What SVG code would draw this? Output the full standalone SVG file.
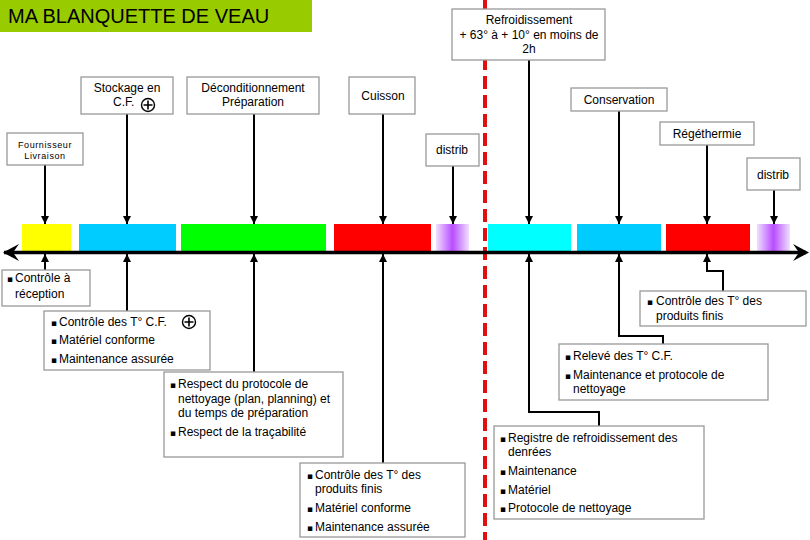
<svg xmlns="http://www.w3.org/2000/svg" width="810" height="540" viewBox="0 0 810 540">
<defs>
<style>
.box{fill:#fff;stroke:#999;stroke-width:1.3}
.t{font-family:"Liberation Sans",Arial,sans-serif;font-size:12px;fill:#000}
.c{text-anchor:middle}
.b{font-family:"DejaVu Sans","Liberation Sans",sans-serif;font-size:9px;fill:#000}
.sm{font-family:"Liberation Sans",Arial,sans-serif;font-size:9px;letter-spacing:0.6px;text-anchor:middle}
.ln{stroke:#000;stroke-width:2;fill:none}
.pl{fill:#fff;stroke:#000;stroke-width:1.4}
</style>
<marker id="ah" markerWidth="8" markerHeight="8" refX="8" refY="4" orient="auto" markerUnits="userSpaceOnUse">
<path d="M0,0 L8,4 L0,8 z" fill="#000"/>
</marker>
<linearGradient id="pur" x1="0" y1="0" x2="1" y2="0">
<stop offset="0" stop-color="#F0E0FF"/>
<stop offset="0.5" stop-color="#B94DFF"/>
<stop offset="1" stop-color="#F0E0FF"/>
</linearGradient>
</defs>

<rect x="0" y="0" width="312" height="32" fill="#99CC00"/>
<text x="8" y="23" font-family="Liberation Sans, Arial, sans-serif" font-size="20" fill="#000">MA BLANQUETTE DE VEAU</text>

<line x1="485" y1="0" x2="485" y2="540" stroke="#E01010" stroke-width="4" stroke-dasharray="13 6"/>

<g id="bars">
<rect x="22" y="224" width="49" height="27" fill="#FFFF00"/>
<rect x="79" y="224" width="97" height="27" fill="#00CCFF"/>
<rect x="181" y="224" width="145" height="27" fill="#00FF00"/>
<rect x="334" y="224" width="97" height="27" fill="#FF0000"/>
<rect x="436" y="224" width="33" height="27" fill="url(#pur)"/>
<rect x="488" y="224" width="83" height="27" fill="#00FFFF"/>
<rect x="577" y="224" width="84" height="27" fill="#00CCFF"/>
<rect x="666" y="224" width="84" height="27" fill="#FF0000"/>
<rect x="757" y="224" width="33" height="27" fill="url(#pur)"/>
</g>

<g id="connectors">
<line x1="4" y1="252.5" x2="806" y2="252.5" stroke="#000" stroke-width="3.5"/>
<path d="M3,252.5 L19,244 L13,252.5 L19,261 z" fill="#000"/>
<path d="M809,252.5 L793,244 L799,252.5 L793,261 z" fill="#000"/>
<line class="ln" x1="45" y1="165" x2="45" y2="224" marker-end="url(#ah)"/>
<line class="ln" x1="127" y1="114" x2="127" y2="224" marker-end="url(#ah)"/>
<line class="ln" x1="254" y1="114" x2="254" y2="224" marker-end="url(#ah)"/>
<line class="ln" x1="383" y1="114" x2="383" y2="224" marker-end="url(#ah)"/>
<line class="ln" x1="453" y1="166" x2="453" y2="224" marker-end="url(#ah)"/>
<line class="ln" x1="529" y1="60" x2="529" y2="224" marker-end="url(#ah)"/>
<line class="ln" x1="619" y1="111" x2="619" y2="224" marker-end="url(#ah)"/>
<line class="ln" x1="707" y1="145" x2="707" y2="224" marker-end="url(#ah)"/>
<line class="ln" x1="774" y1="190" x2="774" y2="224" marker-end="url(#ah)"/>
<line class="ln" x1="45" y1="270" x2="45" y2="254" marker-end="url(#ah)"/>
<line class="ln" x1="127" y1="311" x2="127" y2="254" marker-end="url(#ah)"/>
<line class="ln" x1="254" y1="372" x2="254" y2="254" marker-end="url(#ah)"/>
<line class="ln" x1="383" y1="463" x2="383" y2="254" marker-end="url(#ah)"/>
<polyline class="ln" points="599,426 599,412 529,412 529,254" marker-end="url(#ah)"/>
<polyline class="ln" points="663,344 663,336 619,336 619,254" marker-end="url(#ah)"/>
<polyline class="ln" points="723,291 723,271 707,271 707,254" marker-end="url(#ah)"/>
</g>

<g id="n-fournisseur">
<rect class="box" x="7" y="133" width="76" height="32"/>
<text class="sm" x="45" y="148">Fournisseur</text>
<text class="sm" x="45" y="159">Livraison</text>
</g>
<g id="n-stockage">
<rect class="box" x="81" y="77" width="92" height="37"/>
<text class="t c" x="127" y="92">Stockage en</text>
<text class="t" x="113" y="106">C.F.</text>
<circle class="pl" cx="148" cy="105" r="6.5"/>
<path d="M143.5,105 H152.5 M148,100.5 V109.5" stroke="#000" stroke-width="1.6"/>
</g>
<g id="n-decond">
<rect class="box" x="187" y="77" width="132" height="37"/>
<text class="t c" x="253" y="92">Déconditionnement</text>
<text class="t c" x="253" y="106">Préparation</text>
</g>
<g id="n-cuisson">
<rect class="box" x="349" y="77" width="66" height="37"/>
<text class="t c" x="383" y="100">Cuisson</text>
</g>
<g id="n-distrib1">
<rect class="box" x="426" y="134" width="53" height="32"/>
<text class="t c" x="452" y="154">distrib</text>
</g>
<g id="n-refroid">
<rect class="box" x="452" y="9" width="153" height="51"/>
<text class="t c" x="529" y="24">Refroidissement</text>
<text class="t c" x="529" y="39">+ 63° à + 10° en moins de</text>
<text class="t c" x="529" y="53">2h</text>
</g>
<g id="n-conservation">
<rect class="box" x="571" y="88" width="96" height="23"/>
<text class="t c" x="619" y="104">Conservation</text>
</g>
<g id="n-regeth">
<rect class="box" x="660" y="122" width="94" height="23"/>
<text class="t c" x="707" y="138">Régéthermie</text>
</g>
<g id="n-distrib2">
<rect class="box" x="747" y="158" width="53" height="32"/>
<text class="t c" x="773" y="179">distrib</text>
</g>

<g id="n-reception">
<rect class="box" x="2" y="270" width="88" height="36"/>
<text class="b" x="7" y="282">▪</text>
<text class="t" x="15" y="282">Contrôle à</text>
<text class="t" x="15" y="298">réception</text>
</g>
<g id="n-cf">
<rect class="box" x="44" y="311" width="166" height="59"/>
<text class="b" x="51" y="326">▪</text>
<text class="t" x="59" y="326">Contrôle des T° C.F.</text>
<circle class="pl" cx="189" cy="322" r="6.5"/>
<path d="M184.5,322 H193.5 M189,317.5 V326.5" stroke="#000" stroke-width="1.6"/>
<text class="b" x="51" y="344">▪</text>
<text class="t" x="59" y="344">Matériel conforme</text>
<text class="b" x="51" y="363">▪</text>
<text class="t" x="59" y="363">Maintenance assurée</text>
</g>
<g id="n-respect">
<rect class="box" x="164" y="372" width="179" height="85"/>
<text class="b" x="170" y="388">▪</text>
<text class="t" x="178" y="388">Respect du protocole de</text>
<text class="t" x="178" y="403">nettoyage (plan, planning) et</text>
<text class="t" x="178" y="417">du temps de préparation</text>
<text class="b" x="170" y="436">▪</text>
<text class="t" x="178" y="436">Respect de la traçabilité</text>
</g>
<g id="n-produits1">
<rect class="box" x="300" y="463" width="165" height="74"/>
<text class="b" x="307" y="479">▪</text>
<text class="t" x="315" y="479">Contrôle des T° des</text>
<text class="t" x="315" y="493">produits finis</text>
<text class="b" x="307" y="512">▪</text>
<text class="t" x="315" y="512">Matériel conforme</text>
<text class="b" x="307" y="531">▪</text>
<text class="t" x="315" y="531">Maintenance assurée</text>
</g>
<g id="n-produits2">
<rect class="box" x="640" y="291" width="166" height="35"/>
<text class="b" x="647" y="305">▪</text>
<text class="t" x="656" y="305">Contrôle des T° des</text>
<text class="t" x="656" y="320">produits finis</text>
</g>
<g id="n-releve">
<rect class="box" x="559" y="344" width="209" height="56"/>
<text class="b" x="565" y="360">▪</text>
<text class="t" x="573" y="360">Relevé des T° C.F.</text>
<text class="b" x="565" y="379">▪</text>
<text class="t" x="573" y="379">Maintenance et protocole de</text>
<text class="t" x="573" y="393">nettoyage</text>
</g>
<g id="n-registre">
<rect class="box" x="494" y="426" width="210" height="93"/>
<text class="b" x="500" y="442">▪</text>
<text class="t" x="508" y="442">Registre de refroidissement des</text>
<text class="t" x="508" y="456">denrées</text>
<text class="b" x="500" y="475">▪</text>
<text class="t" x="508" y="475">Maintenance</text>
<text class="b" x="500" y="494">▪</text>
<text class="t" x="508" y="494">Matériel</text>
<text class="b" x="500" y="512">▪</text>
<text class="t" x="508" y="512">Protocole de nettoyage</text>
</g>
</svg>
